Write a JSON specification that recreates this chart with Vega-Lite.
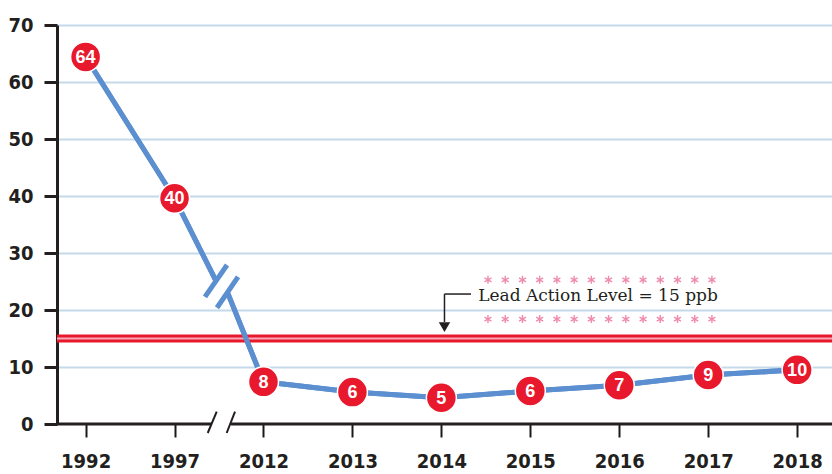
{
  "$schema": "https://vega.github.io/schema/vega-lite/v6.json",
  "width": 775,
  "height": 399,
  "autosize": {"type": "none"},
  "padding": {"left": 57, "top": 25, "right": 0, "bottom": 50},
  "background": "white",
  "config": {"view": {"stroke": null}},
  "datasets": {
    "pts": [
      {"i": 0, "year": "1992", "v": 64.4, "label": "64"},
      {"i": 1, "year": "1997", "v": 39.6, "label": "40"},
      {"i": 2, "year": "2012", "v": 7.4, "label": "8"},
      {"i": 3, "year": "2013", "v": 5.6, "label": "6"},
      {"i": 4, "year": "2014", "v": 4.6, "label": "5"},
      {"i": 5, "year": "2015", "v": 5.8, "label": "6"},
      {"i": 6, "year": "2016", "v": 6.8, "label": "7"},
      {"i": 7, "year": "2017", "v": 8.6, "label": "9"},
      {"i": 8, "year": "2018", "v": 9.5, "label": "10"}
    ],
    "line": [
      {"seg": "a", "i": 0, "v": 64.4},
      {"seg": "a", "i": 1, "v": 39.6},
      {"seg": "a", "i": 1.466, "v": 25.1},
      {"seg": "b", "i": 1.595, "v": 23.1},
      {"seg": "b", "i": 2, "v": 7.4},
      {"seg": "b", "i": 3, "v": 5.6},
      {"seg": "b", "i": 4, "v": 4.6},
      {"seg": "b", "i": 5, "v": 5.8},
      {"seg": "b", "i": 6, "v": 6.8},
      {"seg": "b", "i": 7, "v": 8.6},
      {"seg": "b", "i": 8, "v": 9.5}
    ],
    "breaks": [
      {"x1": 1.342, "y1": 22.3, "x2": 1.590, "y2": 27.9},
      {"x1": 1.477, "y1": 20.4, "x2": 1.714, "y2": 25.8}
    ],
    "xaxis": [
      {"x1": -0.3216, "x2": 1.421},
      {"x1": 1.635, "x2": 8.392}
    ],
    "slashes": [
      {"x1": 1.373, "y1": -1.58, "x2": 1.474, "y2": 2.16},
      {"x1": 1.586, "y1": -1.58, "x2": 1.680, "y2": 2.16}
    ],
    "arrow": [
      {"x1": 4.333, "y1": 22.8, "x2": 4.035, "y2": 22.8},
      {"x1": 4.035, "y1": 22.8, "x2": 4.035, "y2": 17.9}
    ],
    "stars": [
      {"s": 4.524}, {"s": 4.718}, {"s": 4.912}, {"s": 5.105}, {"s": 5.299},
      {"s": 5.493}, {"s": 5.686}, {"s": 5.880}, {"s": 6.074}, {"s": 6.268},
      {"s": 6.461}, {"s": 6.655}, {"s": 6.849}, {"s": 7.042}
    ],
    "note": [{"x": 5.761, "y": 22.5, "t": "Lead Action Level = 15 ppb"}],
    "level": [{"lvl": 15}]
  },
  "layer": [
    {
      "data": {"name": "line"},
      "mark": {"type": "line", "color": "#5b8fd0", "strokeWidth": 5, "strokeJoin": "round"},
      "encoding": {
        "x": {
          "field": "i", "type": "quantitative",
          "scale": {"domain": [-0.3216, 8.392], "nice": false, "zero": false},
          "axis": {
            "title": null, "values": [0, 1, 2, 3, 4, 5, 6, 7, 8],
            "labelExpr": "['1992','1997','2012','2013','2014','2015','2016','2017','2018'][datum.value]",
            "domain": false, "grid": false, "ticks": true, "tickColor": "#1a1a1a",
            "tickWidth": 2, "tickSize": 13, "labelPadding": 14,
            "labelFont": "Liberation Sans Narrow, DejaVu Sans Condensed, sans-serif",
            "labelFontWeight": "bold", "labelFontSize": 20, "labelColor": "#231f20",
            "labelFlush": false, "labelOverlap": false
          }
        },
        "y": {
          "field": "v", "type": "quantitative",
          "scale": {"domain": [0, 70], "nice": false},
          "axis": {
            "title": null, "values": [0, 10, 20, 30, 40, 50, 60, 70],
            "domain": true, "domainColor": "#231f20", "domainWidth": 3,
            "ticks": true, "tickColor": "#231f20", "tickWidth": 3, "tickSize": 13,
            "labelPadding": 11,
            "labelFont": "Liberation Sans Narrow, DejaVu Sans Condensed, sans-serif",
            "labelFontWeight": "bold", "labelFontSize": 20, "labelColor": "#231f20",
            "grid": true, "gridWidth": 2,
            "gridColor": {"condition": {"test": "datum.value === 0", "value": "transparent"}, "value": "#c4d9ea"}
          }
        },
        "detail": {"field": "seg"}
      }
    },
    {
      "data": {"name": "level"},
      "mark": {"type": "rule", "color": "#e8192c", "strokeWidth": 8},
      "encoding": {"y": {"field": "lvl", "type": "quantitative"}}
    },
    {
      "data": {"name": "level"},
      "mark": {"type": "rule", "color": "#f6a9b9", "strokeWidth": 2},
      "encoding": {"y": {"field": "lvl", "type": "quantitative"}}
    },
    {
      "data": {"name": "line"},
      "mark": {"type": "line", "color": "#5b8fd0", "strokeWidth": 5, "strokeJoin": "round"},
      "encoding": {
        "x": {"field": "i", "type": "quantitative"},
        "y": {"field": "v", "type": "quantitative"},
        "detail": {"field": "seg"}
      }
    },
    {
      "data": {"name": "breaks"},
      "mark": {"type": "rule", "color": "#5b8fd0", "strokeWidth": 5},
      "encoding": {
        "x": {"field": "x1", "type": "quantitative"},
        "x2": {"field": "x2"},
        "y": {"field": "y1", "type": "quantitative"},
        "y2": {"field": "y2"}
      }
    },
    {
      "data": {"name": "xaxis"},
      "mark": {"type": "rule", "color": "#231f20", "strokeWidth": 3},
      "encoding": {
        "x": {"field": "x1", "type": "quantitative"},
        "x2": {"field": "x2"},
        "y": {"datum": 0}
      }
    },
    {
      "data": {"name": "slashes"},
      "mark": {"type": "rule", "color": "#231f20", "strokeWidth": 2},
      "encoding": {
        "x": {"field": "x1", "type": "quantitative"},
        "x2": {"field": "x2"},
        "y": {"field": "y1", "type": "quantitative"},
        "y2": {"field": "y2"}
      }
    },
    {
      "data": {"name": "arrow"},
      "mark": {"type": "rule", "color": "#231f20", "strokeWidth": 1.5},
      "encoding": {
        "x": {"field": "x1", "type": "quantitative"},
        "x2": {"field": "x2"},
        "y": {"field": "y1", "type": "quantitative"},
        "y2": {"field": "y2"}
      }
    },
    {
      "data": {"values": [{"x": 4.035, "y": 17.0}]},
      "mark": {"type": "point", "shape": "triangle-down", "filled": true, "color": "#231f20", "size": 130, "opacity": 1},
      "encoding": {
        "x": {"field": "x", "type": "quantitative"},
        "y": {"field": "y", "type": "quantitative"}
      }
    },
    {
      "data": {"name": "stars"},
      "mark": {"type": "point", "shape": "M0,-1L0,1M-0.87,-0.5L0.87,0.5M-0.87,0.5L0.87,-0.5", "filled": false, "color": "#f08cab", "strokeWidth": 1.4, "size": 64, "opacity": 1},
      "encoding": {
        "x": {"field": "s", "type": "quantitative"},
        "y": {"datum": 25.3}
      }
    },
    {
      "data": {"name": "stars"},
      "mark": {"type": "point", "shape": "M0,-1L0,1M-0.87,-0.5L0.87,0.5M-0.87,0.5L0.87,-0.5", "filled": false, "color": "#f08cab", "strokeWidth": 1.4, "size": 64, "opacity": 1},
      "encoding": {
        "x": {"field": "s", "type": "quantitative"},
        "y": {"datum": 18.4}
      }
    },
    {
      "data": {"name": "note"},
      "mark": {"type": "text", "font": "DejaVu Serif", "fontSize": 17, "color": "#231f20", "align": "center", "baseline": "middle"},
      "encoding": {
        "x": {"field": "x", "type": "quantitative"},
        "y": {"field": "y", "type": "quantitative"},
        "text": {"field": "t"}
      }
    },
    {
      "data": {"name": "pts"},
      "mark": {"type": "point", "shape": "circle", "filled": true, "color": "#e8192c", "size": 900, "opacity": 1, "stroke": "white", "strokeWidth": 1.5},
      "encoding": {
        "x": {"field": "i", "type": "quantitative"},
        "y": {"field": "v", "type": "quantitative"}
      }
    },
    {
      "data": {"name": "pts"},
      "mark": {"type": "text", "font": "Liberation Sans", "fontWeight": "bold", "fontSize": 18, "color": "white", "align": "center", "baseline": "middle", "dy": 1},
      "encoding": {
        "x": {"field": "i", "type": "quantitative"},
        "y": {"field": "v", "type": "quantitative"},
        "text": {"field": "label"}
      }
    }
  ]
}
